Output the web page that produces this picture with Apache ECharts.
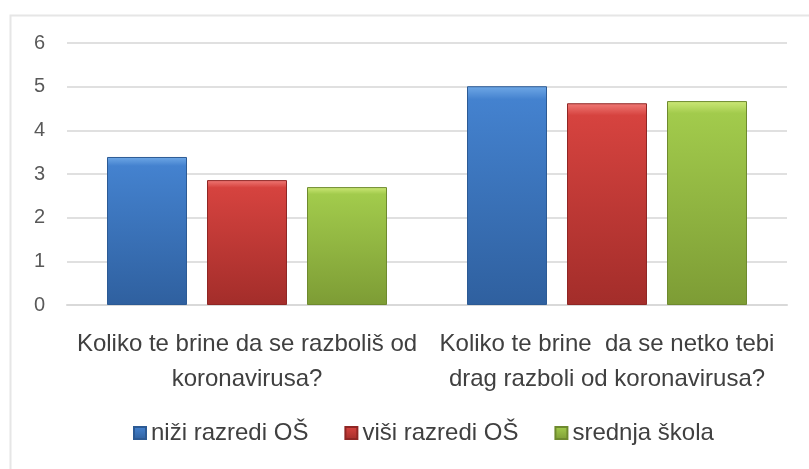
<!DOCTYPE html>
<html lang="hr">
<head>
    <meta charset="UTF-8">
    <title>Koronavirus</title>
    <script src="https://cdn.jsdelivr.net/npm/echarts@6/dist/echarts.min.js"></script>
    <style>
        html, body { margin: 0; padding: 0; background: #fff; }
    </style>
</head>
<body>
    <div id="main" style="width: 809px;height: 469px;"></div>
    <script>
        var categories = [
            'Koliko te brine da se razboliš od\nkoronavirusa?',
            'Koliko te brine  da se netko tebi\ndrag razboli od koronavirusa?'
        ];
        var seriesNames = ['niži razredi OŠ', 'viši razredi OŠ', 'srednja škola'];
        var nizi = [3.39, 5.01];
        var visi = [2.86, 4.62];
        var srednja = [2.70, 4.67];
        var yTicks = [0, 1, 2, 3, 4, 5, 6];

        var font = '"Liberation Sans Narrow", "Liberation Sans", sans-serif';

        function grad(top, mid, bottom) {
            return new echarts.graphic.LinearGradient(0, 0, 0, 1, [
                { offset: 0, color: top },
                { offset: 0.06, color: mid },
                { offset: 1, color: bottom }
            ]);
        }

        function bar(name, data, top, mid, bottom, edge) {
            return {
                name: name,
                type: 'bar',
                data: data,
                barWidth: 80,
                barGap: '25%',
                itemStyle: {
                    color: grad(top, mid, bottom),
                    borderColor: edge,
                    borderWidth: 1
                }
            };
        }

        var myCharts = echarts.init(document.getElementById('main'));
        var option = {
            animation: false,
            backgroundColor: '#fff',
            graphic: [{
                type: 'rect',
                left: 8,
                top: 13,
                shape: { width: 820, height: 480 },
                style: { fill: 'none', stroke: '#e6e6e6', lineWidth: 2 },
                z: -1
            }],
            legend: {
                data: seriesNames,
                bottom: 19,
                left: 128,
                icon: 'rect',
                itemWidth: 12,
                itemHeight: 12,
                itemGap: 36,
                textStyle: { fontFamily: font, fontSize: 24, color: '#404040' }
            },
            grid: {
                left: 67,
                right: 22,
                top: 43,
                bottom: 164,
                containLabel: false
            },
            xAxis: {
                type: 'category',
                data: categories,
                axisTick: { show: false },
                axisLine: { lineStyle: { color: '#d9d9d9', width: 2 } },
                axisLabel: {
                    interval: 0,
                    margin: 22,
                    fontFamily: font,
                    fontSize: 24,
                    lineHeight: 35,
                    color: '#404040'
                }
            },
            yAxis: {
                type: 'value',
                min: yTicks[0],
                max: yTicks[yTicks.length - 1],
                interval: 1,
                axisLine: { show: false },
                axisTick: { show: false },
                splitLine: { lineStyle: { color: '#e0e0e0', width: 2 } },
                axisLabel: {
                    margin: 22,
                    fontFamily: '"Liberation Sans", sans-serif',
                    fontSize: 20,
                    color: '#595959'
                }
            },
            series: [
                bar(seriesNames[0], nizi, '#6fa8e6', '#4482cf', '#2f609f', '#2c5a94'),
                bar(seriesNames[1], visi, '#f07a76', '#d6433f', '#a32d2a', '#8f2624'),
                bar(seriesNames[2], srednja, '#cde877', '#a2cb4c', '#7d9c35', '#6e8a2e')
            ]
        };
        myCharts.setOption(option);
    </script>
</body>
</html>
